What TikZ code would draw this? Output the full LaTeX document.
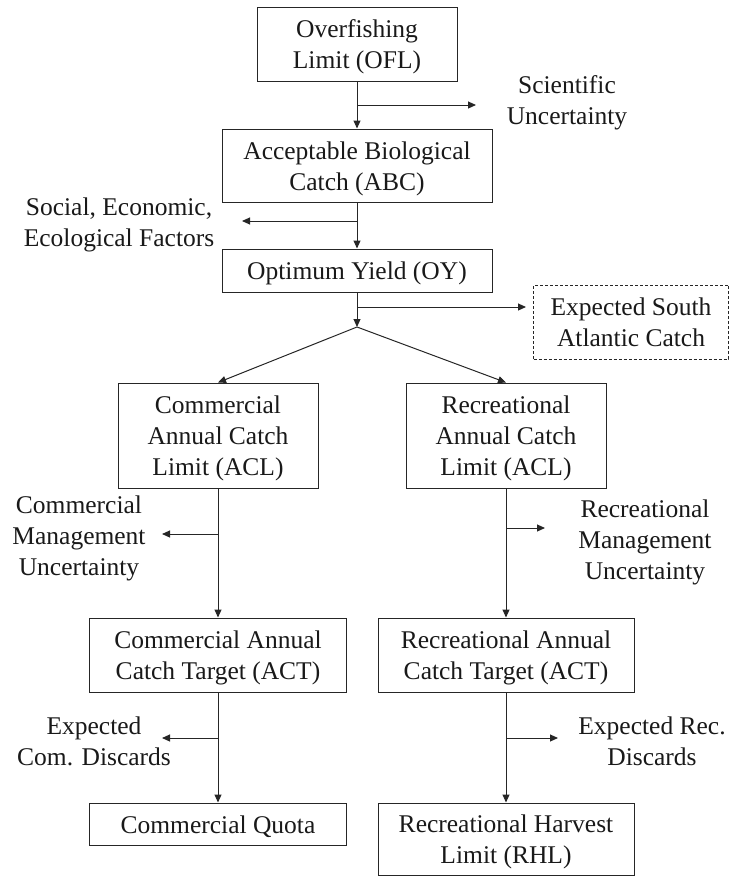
\documentclass[tikz,border=0pt]{standalone}
\usepackage{fontspec}
\setmainfont{Liberation Serif}
\usetikzlibrary{arrows.meta}
\newcommand\bxtext[1]{\raisebox{-3pt}[\height][\depth]{\begin{tabular}{@{}c@{}}#1\end{tabular}}}
\begin{document}
\begin{tikzpicture}[x=1pt,y=-1pt,
  txt/.style={font=\fontsize{25.5}{31}\selectfont, align=center, inner sep=0pt, text=black!90},
  box/.style={font=\fontsize{25.5}{31}\selectfont, inner sep=0pt, text=black!90, draw=black!85, line width=1pt},
  dbox/.style={box, dashed, dash pattern=on 3pt off 2pt},
  conn/.style={draw=black!85, line width=1pt, -{Triangle[length=8pt,width=7pt]}}]
\useasboundingbox (0,0) rectangle (730,876);

% boxes
\node[box, minimum width=200pt, minimum height=74pt] (ofl) at (357,44) {\bxtext{Overfishing\\Limit (OFL)}};
\node[box, minimum width=270pt, minimum height=73pt] (abc) at (357,165.5) {\bxtext{Acceptable Biological\\Catch (ABC)}};
\node[box, minimum width=270pt, minimum height=43pt] (oy) at (357,270.5) {\bxtext{Optimum Yield (OY)}};
\node[dbox, minimum width=195pt, minimum height=74pt] (esac) at (631,322) {\bxtext{Expected South\\Atlantic Catch}};
\node[box, minimum width=200pt, minimum height=105pt] (comacl) at (218,435.5) {\bxtext{Commercial\\Annual Catch\\Limit (ACL)}};
\node[box, minimum width=200pt, minimum height=105pt] (recacl) at (506,435.5) {\bxtext{Recreational\\Annual Catch\\Limit (ACL)}};
\node[box, minimum width=257pt, minimum height=74pt] (comact) at (218,655) {\bxtext{Commercial Annual\\Catch Target (ACT)}};
\node[box, minimum width=256pt, minimum height=74pt] (recact) at (506,655) {\bxtext{Recreational Annual\\Catch Target (ACT)}};
\node[box, minimum width=257pt, minimum height=42pt] (quota) at (218,824) {\bxtext{Commercial Quota}};
\node[box, minimum width=256pt, minimum height=72pt] (rhl) at (506,839) {\bxtext{Recreational Harvest\\Limit (RHL)}};

% side labels
\node[txt] (sci) at (567,102.5) {Scientific\\Uncertainty};
\node[txt] (soc) at (119,224.5) {Social, Economic,\\Ecological Factors};
\node[txt] (cmu) at (79,538) {Commercial\\Management\\Uncertainty};
\node[txt] (rmu) at (645,542) {Recreational\\Management\\Uncertainty};
\node[txt] (ecd) at (94,741) {Expected\\Com. Discards};
\node[txt] (erd) at (652,741) {Expected Rec.\\Discards};

% branch points
\coordinate (b1) at (357,105);   \coordinate (e1) at (476,105);
\coordinate (b2) at (357,221);   \coordinate (e2) at (242,221);
\coordinate (b3) at (357,307);   \coordinate (e3) at (526,307);
\coordinate (split) at (357,327);
\coordinate (b4) at (218,534);   \coordinate (e4) at (162,534);
\coordinate (b5) at (506,528);   \coordinate (e5) at (545,528);
\coordinate (b6) at (218,738);   \coordinate (e6) at (162,738);
\coordinate (b7) at (506,738);   \coordinate (e7) at (558,738);

% main flow
\draw[conn] (ofl) -- (abc);
\draw[conn] (abc) -- (oy);
\draw[conn] (oy.south) -- (split);
\draw[conn] (split) -- (comacl.north);
\draw[conn] (split) -- (recacl.north);
\draw[conn] (comacl) -- (comact);
\draw[conn] (recacl) -- (recact);
\draw[conn] (comact) -- (quota);
\draw[conn] (recact) -- (rhl);

% side branches
\draw[conn] (b1) -- (e1);
\draw[conn] (b2) -- (e2);
\draw[conn] (b3) -- (e3);
\draw[conn] (b4) -- (e4);
\draw[conn] (b5) -- (e5);
\draw[conn] (b6) -- (e6);
\draw[conn] (b7) -- (e7);
\end{tikzpicture}
\end{document}
